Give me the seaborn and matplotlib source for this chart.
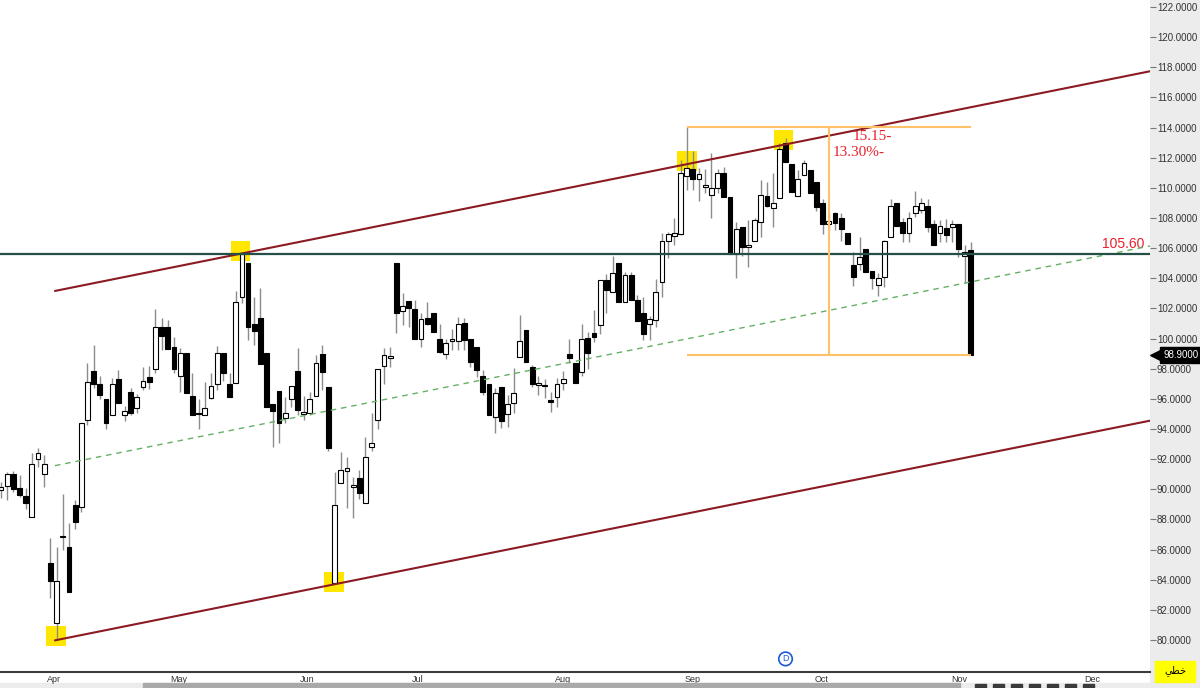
import matplotlib
matplotlib.use("Agg")
import matplotlib.pyplot as plt
import matplotlib.transforms as mtransforms
import numpy as np
import pandas as pd
import seaborn as sns
from matplotlib.patches import Rectangle

# ------------------------------------------------------------------
# daily candles, one value per trading day
# ------------------------------------------------------------------
opens = [89.95, 90.22, 91.02, 90.09, 89.56, 88.16, 92.01, 91.02, 85.11, 81.13,
         86.85, 86.17, 88.96, 88.83, 94.60, 97.85, 96.99, 95.99, 94.93, 97.32,
         94.93, 96.46, 95.40, 96.79, 97.45, 97.98, 100.77, 100.77, 99.44, 97.52,
         99.04, 96.19, 95.00, 94.93, 96.06, 96.99, 99.04, 96.99, 97.05, 102.76,
         105.02, 100.97, 101.37, 99.04, 95.66, 96.52, 94.73, 95.99, 97.85, 95.00,
         95.06, 96.19, 98.98, 96.79, 83.78, 90.42, 91.21, 90.15, 90.75, 89.09,
         92.81, 94.60, 98.18, 98.72, 105.02, 101.83, 102.50, 101.96, 99.97, 101.37,
         101.70, 99.97, 98.98, 99.85, 99.84, 101.04, 99.97, 99.44, 97.52, 96.99,
         94.80, 96.79, 95.00, 95.73, 98.78, 100.57, 98.12, 96.92, 96.86, 95.80,
         96.12, 97.05, 98.98, 98.38, 97.78, 100.04, 100.37, 100.90, 103.89, 103.09,
         105.02, 102.43, 104.22, 102.56, 101.70, 100.97, 101.23, 103.76, 106.48, 106.81,
         106.94, 110.79, 111.26, 110.59, 110.06, 109.53, 110.00, 110.99, 109.40, 105.61,
         107.41, 106.08, 106.48, 107.74, 109.46, 108.67, 109.33, 112.98, 111.59, 109.46,
         110.86, 111.19, 110.39, 109.00, 107.61, 108.34, 108.00, 107.01, 104.88, 104.95,
         105.95, 104.49, 103.56, 104.09, 106.74, 109.00, 107.74, 107.01, 108.34, 108.54,
         108.80, 107.61, 107.01, 107.34, 107.41, 107.61, 105.48, 105.88]
highs = [90.48, 91.15, 91.21, 90.95, 90.09, 92.41, 92.74, 92.28, 86.77, 86.17,
         89.69, 87.76, 89.29, 94.40, 98.38, 99.58, 97.52, 95.99, 97.39, 97.92,
         95.53, 96.72, 96.32, 98.12, 98.18, 101.96, 101.37, 101.23, 100.11, 99.38,
         99.04, 97.72, 95.99, 97.12, 97.72, 99.51, 99.04, 97.72, 103.16, 105.75,
         105.02, 102.76, 103.36, 99.04, 95.66, 96.52, 96.12, 96.85, 99.38, 96.19,
         96.46, 98.91, 99.58, 96.79, 91.15, 92.48, 92.14, 90.82, 91.28, 93.47,
         95.06, 97.98, 99.38, 99.44, 105.02, 103.03, 102.50, 102.56, 101.70, 102.43,
         101.70, 100.97, 99.97, 100.64, 101.43, 101.37, 99.97, 99.44, 97.92, 96.99,
         96.72, 96.79, 96.26, 98.05, 101.57, 100.57, 98.25, 97.52, 97.32, 96.46,
         97.39, 97.85, 99.97, 98.38, 100.97, 100.44, 101.90, 103.89, 104.29, 105.48,
         105.02, 104.42, 104.42, 102.89, 102.76, 101.50, 103.96, 107.01, 107.07, 108.00,
         111.85, 114.05, 112.45, 111.32, 111.26, 112.32, 111.26, 111.39, 109.40, 107.74,
         107.41, 107.87, 108.00, 110.52, 110.39, 110.99, 112.98, 113.31, 111.59, 111.19,
         111.85, 111.19, 110.39, 109.26, 108.34, 108.40, 108.34, 107.01, 105.75, 106.74,
         105.95, 104.49, 104.35, 106.54, 109.26, 109.00, 108.00, 108.40, 109.79, 109.33,
         109.26, 107.87, 107.87, 107.94, 107.87, 107.61, 106.21, 106.41]
lows = [89.42, 89.29, 89.82, 89.49, 88.69, 88.16, 91.48, 90.15, 82.79, 80.00,
        85.97, 83.18, 87.37, 88.49, 94.27, 96.72, 95.99, 94.00, 94.93, 95.73,
        94.53, 94.93, 95.06, 96.59, 96.66, 97.72, 99.24, 99.31, 97.72, 96.46,
        96.39, 94.93, 94.00, 94.93, 95.99, 96.59, 97.19, 96.12, 97.05, 102.36,
        99.91, 99.58, 98.31, 95.46, 92.81, 93.07, 94.40, 95.46, 94.93, 94.60,
        94.93, 96.19, 96.59, 92.54, 83.78, 90.42, 88.76, 88.09, 89.36, 89.09,
        92.54, 94.00, 96.99, 98.12, 100.37, 100.90, 100.77, 99.97, 99.44, 100.90,
        100.44, 99.04, 98.65, 99.24, 99.24, 99.24, 98.12, 97.45, 96.26, 94.93,
        93.74, 94.07, 94.14, 95.06, 98.78, 98.45, 96.79, 96.26, 96.06, 95.13,
        95.46, 96.59, 98.38, 97.05, 97.52, 97.98, 99.77, 100.30, 101.70, 103.09,
        102.43, 102.43, 102.56, 101.17, 99.91, 99.91, 100.77, 102.76, 105.35, 106.21,
        106.88, 109.86, 109.86, 109.13, 109.66, 108.00, 109.66, 109.40, 105.61, 104.02,
        105.48, 104.75, 106.48, 106.74, 108.73, 107.41, 109.33, 111.72, 109.73, 109.46,
        110.86, 109.66, 108.47, 106.94, 107.21, 107.21, 106.48, 106.28, 103.49, 104.55,
        104.42, 103.29, 102.83, 103.42, 106.74, 107.47, 106.41, 106.41, 108.07, 108.34,
        107.07, 106.21, 106.41, 106.41, 106.41, 105.42, 103.69, 98.90]
closes = [90.15, 91.02, 90.02, 89.62, 89.09, 91.68, 92.41, 91.68, 83.91, 83.91,
          86.80, 83.18, 87.83, 94.40, 97.12, 96.99, 96.26, 94.40, 96.99, 95.73,
          95.20, 95.06, 96.12, 97.19, 97.12, 100.77, 100.17, 99.31, 97.98, 99.04,
          96.39, 94.93, 94.98, 95.40, 96.85, 99.04, 97.72, 96.12, 102.43, 105.61,
          100.77, 100.50, 98.31, 95.46, 95.20, 94.40, 95.06, 96.85, 95.26, 95.00,
          95.99, 98.38, 97.78, 92.74, 88.96, 91.28, 91.41, 90.15, 89.75, 92.14,
          93.07, 97.98, 98.91, 98.72, 101.70, 102.16, 102.03, 99.97, 101.30, 100.97,
          100.44, 99.11, 99.71, 99.85, 100.97, 99.91, 98.45, 97.92, 96.46, 94.93,
          96.39, 94.53, 95.66, 96.39, 99.84, 98.45, 96.99, 96.92, 96.85, 95.79,
          96.99, 97.32, 98.71, 97.05, 99.97, 99.04, 100.11, 103.89, 103.23, 104.35,
          102.43, 104.22, 102.56, 101.17, 100.31, 101.30, 103.09, 106.48, 106.94, 107.01,
          110.99, 111.32, 110.59, 110.92, 110.06, 110.00, 110.99, 109.40, 105.61, 107.27,
          106.08, 106.21, 107.87, 109.53, 108.80, 109.00, 112.58, 111.72, 109.73, 110.59,
          111.65, 109.66, 108.73, 107.61, 107.80, 107.67, 107.27, 106.28, 104.09, 105.42,
          104.42, 104.02, 104.02, 106.48, 108.80, 107.47, 107.01, 108.00, 108.80, 109.00,
          107.41, 106.21, 107.47, 106.88, 107.61, 105.95, 105.75, 98.90]

# month ticks (position in trading days) and price ticks
month_labels = ["Apr", "May", "Jun", "Jul", "Aug", "Sep", "Oct", "Nov", "Dec"]
month_pos = [7.4, 27.4, 48.4, 66.5, 89.6, 110.7, 131.7, 153.9, 175.4]
price_ticks = list(range(80, 123, 2))

# drawings on the chart
resistance = 105.60
channel_x = [8.74, 186.0]
channel_upper = [103.16, 117.74]
channel_lower = [79.97, 94.55]
pivot_idx = [8.9, 38.8, 53.9, 111.0, 126.7]
pivot_price = [80.27, 105.81, 83.85, 111.79, 113.18]
box_start, box_end = 111, 157
box_high, box_low = 114.05, 98.90
drop_value = 15.15
drop_pct = 13.30
last_price = 98.90

# ------------------------------------------------------------------
sns.set_style("white")
plt.rcParams["font.family"] = ["Liberation Sans", "DejaVu Sans"]

df = pd.DataFrame({"o": opens, "h": highs, "l": lows, "c": closes})
df["i"] = np.arange(len(df))
df["up"] = df["c"] >= df["o"]
df["body_lo"] = df[["o", "c"]].min(axis=1)
df["body_h"] = (df["c"] - df["o"]).abs().clip(lower=0.1)

fig = plt.figure(figsize=(12, 6.88), dpi=100)
ax = fig.add_axes([0, 16 / 688, 1150 / 1200, 672 / 688])

# right price panel and bottom scroll strip
fig.patches.append(Rectangle((1150 / 1200, 0), 50 / 1200, 1, transform=fig.transFigure,
                             color="#ececec", zorder=-1))
fig.patches.append(Rectangle((0, 0), 1, 5 / 688, transform=fig.transFigure,
                             color="#ececec", zorder=-1))
fig.patches.append(Rectangle((143 / 1200, 0), 817 / 1200, 5 / 688, transform=fig.transFigure,
                             color="#a9a9a9", zorder=0))
for bx in [975, 993, 1011, 1029, 1047, 1065, 1083]:
    fig.patches.append(Rectangle((bx / 1200, 0), 11 / 1200, 4 / 688, transform=fig.transFigure,
                                 color="#3a3a3a", zorder=0))

# yellow pivot highlights
sns.scatterplot(x=pivot_idx, y=pivot_price, ax=ax, marker="s", s=200, color="#ffe600",
                edgecolor="none", zorder=1, legend=False)

# candles
ax.vlines(df["i"], df["l"], df["h"], color="#8c8c8c", lw=1, zorder=2)
ax.bar(df["i"], df["body_h"], bottom=df["body_lo"], width=0.78,
       color=np.where(df["up"], "white", "black"), edgecolor="black", linewidth=0.8, zorder=3)

# channel
sns.lineplot(x=channel_x, y=channel_upper, ax=ax, color="#8b1a22", lw=1.5, zorder=4)
sns.lineplot(x=channel_x, y=channel_lower, ax=ax, color="#8b1a22", lw=1.5, zorder=4)
channel_mid = [(a + b) / 2 for a, b in zip(channel_upper, channel_lower)]
ax.plot(channel_x, channel_mid, color="#66b066", lw=1, dashes=(4, 3.5), zorder=4)

# resistance line
ax.axhline(resistance, color="#234f46", lw=1.6, zorder=4)
ax.text(185.1, 106.28, f"{resistance:.2f}", ha="right", va="center", color="#e8202a",
        fontsize=10)

# measuring box
ax.hlines([box_high, box_low], box_start, box_end, color="#ffc06a", lw=1.5, zorder=4)
ax.vlines((box_start + box_end) / 2, box_low, box_high, color="#ffc06a", lw=1.5, zorder=4)
ax.text(137.9, 113.44, f"{drop_value:.2f}-", color="#e8202a", fontsize=11,
        family=["Liberation Serif", "DejaVu Serif"], va="center", ha="left")
ax.text(134.6, 112.32, f"{drop_pct:.2f}%-", color="#e8202a", fontsize=11,
        family=["Liberation Serif", "DejaVu Serif"], va="center", ha="left")

# D marker
ax.text(127, 78.74, "D", color="#1d5ad8", fontsize=6.5, ha="center", va="center",
        bbox=dict(boxstyle="circle,pad=0.25", fc="white", ec="#1d5ad8", lw=1.2), zorder=5)

# axes
ax.set_xlim(-0.16, 186.0)
ax.set_ylim(77.87, 122.47)
for s in ["top", "left", "right"]:
    ax.spines[s].set_visible(False)
ax.spines["bottom"].set_color("#3c3c3c")
ax.spines["bottom"].set_linewidth(1.5)

ax.set_xticks(month_pos)
ax.set_xticklabels(month_labels, ha="left", fontsize=6.5, color="#333333")
ax.tick_params(axis="x", direction="in", length=4, width=0.8, color="#777777", pad=2)

ax.yaxis.tick_right()
ax.set_yticks(price_ticks)
ax.set_yticklabels([f"{t:.4f}" for t in price_ticks], fontsize=7, color="#333333")
ax.tick_params(axis="y", direction="out", length=4, width=0.8, color="#777777", pad=1)
ax.set_xlabel("")
ax.set_ylabel("")

# last price tag
trans = mtransforms.blended_transform_factory(ax.transAxes, ax.transData)
ax.text(1.0115, last_price, f"{last_price:.4f}", transform=trans, color="white", fontsize=7,
        va="center", ha="left", bbox=dict(boxstyle="square,pad=0.3", fc="black", ec="black"),
        zorder=6, clip_on=False)
ax.scatter([1.005], [last_price], transform=trans, marker="<", s=70, color="black",
           clip_on=False, zorder=5)

# chart type box
fig.patches.append(Rectangle((1155 / 1200, 1 - 682 / 688), 40 / 1200, 21 / 688,
                             transform=fig.transFigure, color="#ffff00", zorder=1))
fig.text(1175 / 1200, 1 - 671 / 688, "\ufef2\ufec4\ufea7", ha="center", va="center",
         fontsize=7, family=["DejaVu Sans"], color="black")

plt.savefig("out.png", dpi=100)
plt.close()
